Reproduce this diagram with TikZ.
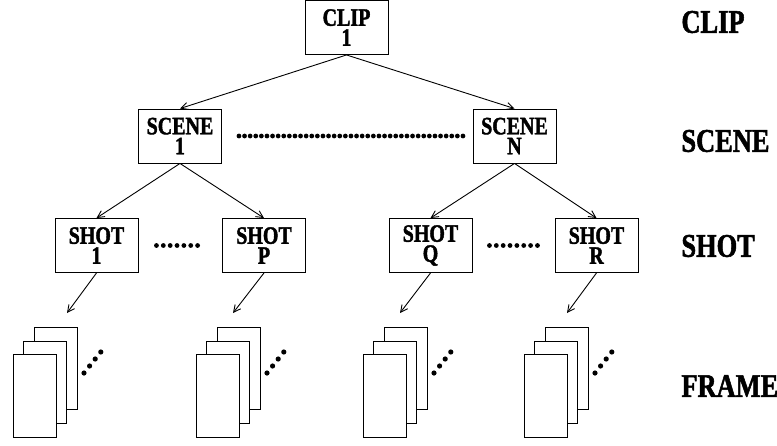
\documentclass[tikz,border=0pt]{standalone}
\usepackage{fontspec}
\usetikzlibrary{arrows.meta}
\newfontfamily\condfont[FakeStretch=0.8, FakeBold=1.6]{Liberation Serif Bold}

\begin{document}
\begin{tikzpicture}[x=1pt, y=1pt, line width=0.9pt,
    unit/.style={draw, minimum width=83pt, minimum height=54pt, inner sep=0pt, align=center,
        font=\condfont\fontsize{25}{20}\selectfont},
    level/.style={anchor=west, inner sep=0pt, font=\condfont\fontsize{33}{33}\selectfont},
    link/.style={-{Straight Barb[length=7pt, width=7pt]}},
    etc/.style={line width=4.8pt, line cap=round, dash pattern=on 0pt off #1},
    page/.style={draw, fill=white}]
    \useasboundingbox (0,0) rectangle (777,-445);

    % Tree of units
    \node[unit] (clip) at (346.5,-27.5) {CLIP\\1};
    \node[unit] (scene1) at (180,-136) {SCENE\\1};
    \node[unit] (sceneN) at (514.5,-136) {SCENE\\N};
    \node[unit] (shot1) at (96.5,-245.5) {SHOT\\1};
    \node[unit] (shotP) at (264,-245.5) {SHOT\\P};
    \node[unit] (shotQ) at (430.5,-245.5) {SHOT\\Q};
    \node[unit] (shotR) at (596.5,-245.5) {SHOT\\R};

    \draw[link] (clip.south) -- (scene1.north);
    \draw[link] (clip.south) -- (sceneN.north);
    \draw[link] (scene1.south) -- (shot1.north);
    \draw[link] (scene1.south) -- (shotP.north);
    \draw[link] (sceneN.south) -- (shotQ.north);
    \draw[link] (sceneN.south) -- (shotR.north);

    \draw[etc=5.6pt, shorten <=17pt, shorten >=5pt] (scene1.east) -- (sceneN.west);
    \draw[etc=6.86pt, shorten <=18pt, shorten >=18pt] (shot1.east) -- (shotP.west);
    \draw[etc=6.86pt, shorten <=17pt, shorten >=17pt] (shotQ.east) -- (shotR.west);

    % Frame stacks under each shot
    \foreach \s/\x/\t in {shot1/13/67, shotP/196/233, shotQ/363/400, shotR/524/567} {
        \draw[page] (\x+21,-327) rectangle (\x+64,-409);
        \draw[page] (\x+10.5,-341) rectangle (\x+53.5,-423);
        \draw[page] (\x,-354) rectangle (\x+43,-437);
        \foreach \i in {0,...,3}
            \fill (\x+71+5.6*\i,-373+7*\i) circle (2.6pt);
        \coordinate (f-\s) at (\t,-313);
        \draw[link] (\s.south) -- (f-\s);
    }

    % Level names
    \node[level] (lclip) at (681,-22) {CLIP};
    \node[level] (lscene) at (681,-141) {SCENE};
    \node[level] (lshot) at (681,-246) {SHOT};
    \node[level] (lframe) at (681,-386) {FRAME};
\end{tikzpicture}
\end{document}
